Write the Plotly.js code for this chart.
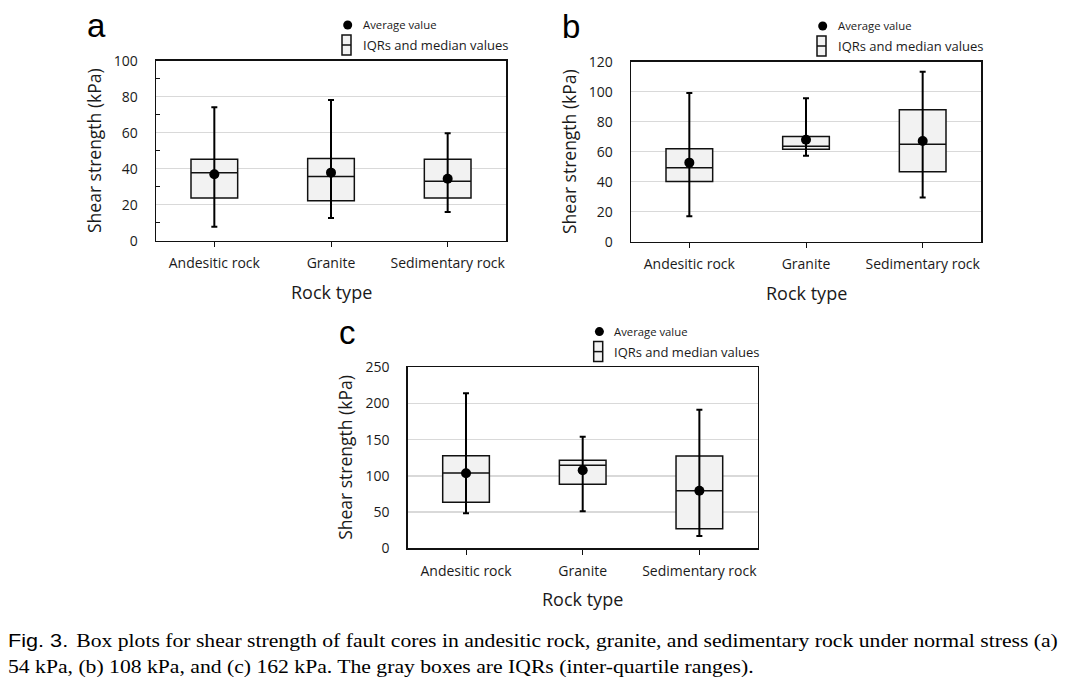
<!DOCTYPE html>
<html>
<head>
<meta charset="utf-8">
<script src="https://cdn.plot.ly/plotly-3.0.1.min.js"></script>
<style>
html,body{margin:0;padding:0;background:#fff;}
#wrap{position:relative;width:1071px;height:694px;overflow:hidden;}
#chart{position:absolute;left:0;top:0;width:1071px;height:694px;}
.cap{position:absolute;left:8px;white-space:nowrap;font-family:"Liberation Serif","Times New Roman",serif;font-size:19px;line-height:19px;color:#000;transform:scaleX(1.14);transform-origin:0 0;}
.cap .head{font-family:"Liberation Sans",Arial,sans-serif;margin-right:7px;}
</style>
</head>
<body>
<div id="wrap">
<div id="chart"></div>
<div class="cap" id="cap1" style="top:631px;"></div>
<div class="cap" id="cap2" style="top:657px;"></div>
</div>
<script>
// ---- data ----
const categories = ['Andesitic rock', 'Granite', 'Sedimentary rock'];

// (a) normal stress 54 kPa
const aMin    = [7.8, 12.6, 15.9];
const aQ1     = [23.7, 22.2, 23.7];
const aMedian = [37.8, 35.6, 33.0];
const aQ3     = [45.2, 45.6, 45.2];
const aMax    = [74.1, 78.2, 59.7];
const aMean   = [36.9, 37.8, 34.4];

// (b) normal stress 108 kPa
const bMin    = [16.9, 57.3, 29.4];
const bQ1     = [40.2, 61.6, 46.7];
const bMedian = [49.3, 63.6, 64.9];
const bQ3     = [62.0, 70.2, 88.0];
const bMax    = [99.1, 95.6, 113.3];
const bMean   = [52.7, 68.0, 67.1];

// (c) normal stress 162 kPa
const cMin    = [48.3, 51.1, 17.0];
const cQ1     = [63.5, 88.4, 27.1];
const cMedian = [104.0, 114.6, 79.6];
const cQ3     = [127.9, 121.5, 127.5];
const cMax    = [214.0, 154.0, 191.4];
const cMean   = [103.6, 107.7, 79.6];

const panelLetters = ['a', 'b', 'c'];
const yRanges = [[0, 100], [0, 120], [0, 250]];
const yDticks = [20, 20, 50];
const yTitle = 'Shear strength (kPa)';
const xTitle = 'Rock type';
const legendMean = 'Average value';
const legendBox = 'IQRs and median values';
const captionHead = 'Fig. 3.';
const captionLine1 = 'Box plots for shear strength of fault cores in andesitic rock, granite, and sedimentary rock under normal stress (a)';
const captionLine2 = '54 kPa, (b) 108 kPa, and (c) 162 kPa. The gray boxes are IQRs (inter-quartile ranges).';

// ---- layout helpers ----
const W = 1071, H = 694;
const px = v => v / W;
const py = v => 1 - v / H;
const SANS = '"Open Sans", "Noto Sans", sans-serif';
const TXT = '#1a1a1a';

// plot area rectangles in pixels [left, top, right, bottom]
const panels = [
  [156, 60.7, 506, 240.7],
  [631, 61.7, 981, 241.7],
  [407.7, 367.3, 757.7, 548.3]
];

const sets = [
  [aMin, aQ1, aMedian, aQ3, aMax, aMean],
  [bMin, bQ1, bMedian, bQ3, bMax, bMean],
  [cMin, cQ1, cMedian, cQ3, cMax, cMean]
];

const traces = [];
const layout = {
  width: W, height: H,
  margin: {l: 0, r: 0, t: 0, b: 0},
  paper_bgcolor: 'rgba(0,0,0,0)', plot_bgcolor: '#fff',
  showlegend: false,
  font: {family: SANS, color: TXT},
  shapes: [], annotations: []
};

sets.forEach((s, i) => {
  const [mn, q1, md, q3, mx, mean] = s;
  const sfx = i === 0 ? '' : String(i + 1);
  const xa = 'x' + sfx, ya = 'y' + sfx;
  traces.push({
    type: 'box', x: categories, xaxis: xa, yaxis: ya,
    q1: q1, median: md, q3: q3, lowerfence: q1, upperfence: q3,
    width: 0.4, whiskerwidth: 0,
    fillcolor: '#f2f2f2', line: {color: '#111', width: 1.5},
    hoverinfo: 'skip'
  });
  traces.push({
    type: 'scatter', mode: 'markers', x: categories, y: mean, xaxis: xa, yaxis: ya,
    marker: {color: '#000', size: 10},
    error_y: {
      type: 'data', symmetric: false,
      array: mx.map((v, k) => v - mean[k]),
      arrayminus: mn.map((v, k) => mean[k] - v),
      color: '#000', thickness: 2, width: 3
    },
    hoverinfo: 'skip'
  });

  const [L, T, R, B] = panels[i];
  layout['xaxis' + sfx] = {
    domain: [px(L), px(R)], anchor: ya, type: 'category',
    range: [-0.5, 2.5], showgrid: false, zeroline: false,
    showline: true, linecolor: '#111', linewidth: 1.5, mirror: true,
    ticks: 'outside', ticklen: 5, tickcolor: '#111', tickwidth: 1,
    ticklabelstandoff: 4,
    tickfont: {family: SANS, size: 14, color: TXT}
  };
  const ya_obj = {
    domain: [py(B), py(T)], anchor: xa,
    range: yRanges[i], dtick: yDticks[i], tick0: 0,
    showgrid: true, gridcolor: '#d9d9d9', gridwidth: 1.5, zeroline: false,
    showline: true, linecolor: '#111', linewidth: 1.5, mirror: true,
    ticks: '', ticklabelstandoff: 14,
    tickfont: {family: SANS, size: 14, color: TXT}
  };
  if (i === 0) {
    ya_obj.minor = {dtick: 10, tick0: 0, ticks: 'inside', ticklen: 4, tickcolor: '#111', tickwidth: 1, showgrid: false};
  }
  layout['yaxis' + sfx] = ya_obj;

  // axis titles
  layout.annotations.push({
    xref: 'paper', yref: 'paper', x: px(L - 62.7), y: py((T + B) / 2),
    text: yTitle, textangle: -90, showarrow: false,
    xanchor: 'center', yanchor: 'middle',
    font: {family: SANS, size: 17.5, color: TXT}
  });
  layout.annotations.push({
    xref: 'paper', yref: 'paper', x: px((L + R) / 2), y: py(B + 51),
    text: xTitle, showarrow: false, xanchor: 'center', yanchor: 'middle',
    font: {family: SANS, size: 18, color: TXT}
  });
  // panel letter
  layout.annotations.push({
    xref: 'paper', yref: 'paper', x: px(L - 71), y: py(T - 35),
    text: panelLetters[i], showarrow: false, xanchor: 'left', yanchor: 'middle',
    font: {family: '"Liberation Sans", Arial, sans-serif', size: 33, color: '#000'}
  });
  // legend: dot + box icon
  const dx = L + 191.7, dy = T - 35.7;
  layout.shapes.push({
    type: 'circle', xref: 'paper', yref: 'paper',
    x0: px(dx - 4.5), x1: px(dx + 4.5), y0: py(dy + 4.5), y1: py(dy - 4.5),
    fillcolor: '#000', line: {color: '#000', width: 0}
  });
  const bx0 = L + 186, bx1 = L + 195, by0 = T - 25.7, by1 = T - 5.7;
  layout.shapes.push({
    type: 'rect', xref: 'paper', yref: 'paper',
    x0: px(bx0), x1: px(bx1), y0: py(by1), y1: py(by0),
    fillcolor: '#f2f2f2', line: {color: '#111', width: 1.5}
  });
  layout.shapes.push({
    type: 'line', xref: 'paper', yref: 'paper',
    x0: px(bx0), x1: px(bx1), y0: py((by0 + by1) / 2), y1: py((by0 + by1) / 2),
    line: {color: '#111', width: 1.5}
  });
  layout.annotations.push({
    xref: 'paper', yref: 'paper', x: px(L + 204.5), y: py(dy),
    text: legendMean, showarrow: false, xanchor: 'left', yanchor: 'middle',
    font: {family: SANS, size: 11.3, color: TXT}
  });
  layout.annotations.push({
    xref: 'paper', yref: 'paper', x: px(L + 204.5), y: py((by0 + by1) / 2),
    text: legendBox, showarrow: false, xanchor: 'left', yanchor: 'middle',
    font: {family: SANS, size: 13, color: TXT}
  });
});

// caption (real text, horizontally stretched like the reference)
const cap1 = document.getElementById('cap1');
const head = document.createElement('span');
head.className = 'head';
head.textContent = captionHead;
cap1.appendChild(head);
cap1.appendChild(document.createTextNode(captionLine1));
document.getElementById('cap2').textContent = captionLine2;

Plotly.newPlot('chart', traces, layout, {displayModeBar: false, staticPlot: true});
</script>
</body>
</html>
